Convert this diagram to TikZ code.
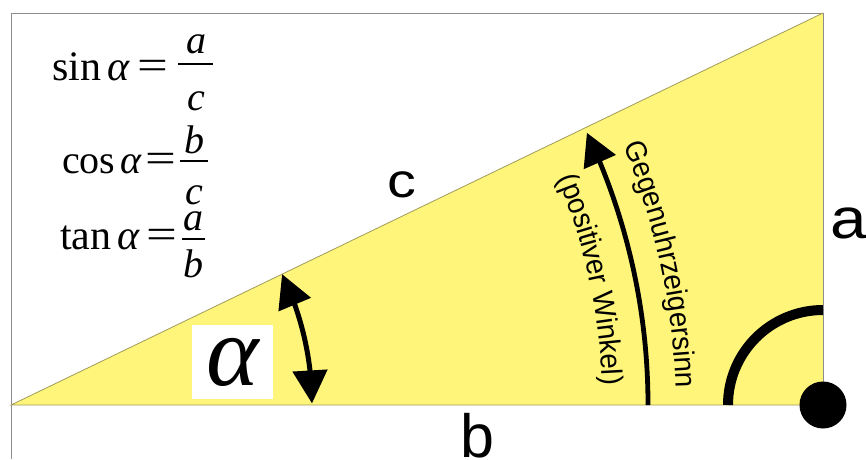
\documentclass[tikz,border=0pt]{standalone}
\usepackage{fontspec}
\setmainfont{Liberation Serif}
\newfontfamily\sansf{Liberation Sans}
\newfontfamily\sansn[FakeStretch=0.94]{Liberation Sans}
\usetikzlibrary{arrows.meta,decorations.text,bending}
\definecolor{triyellow}{RGB}{255,245,122}
\definecolor{edgeol}{RGB}{160,155,90}
\definecolor{framegray}{RGB}{140,140,140}
\begin{document}
\begin{tikzpicture}[x=1pt,y=1pt,
  side/.style={inner sep=0pt, font=\sansf},
  lhs/.style={inner sep=0pt, anchor=base west, font=\fontsize{42}{42}\selectfont},
  eqs/.style={inner sep=0pt, xscale=1.3, font=\fontsize{42}{42}\selectfont},
  frac/.style={inner sep=0pt, anchor=base, font=\fontsize{40}{40}\selectfont\itshape},
  fbar/.style={line width=2.4pt},
  bigarr/.style={line width=4.8pt, -{Triangle[length=32pt,width=34pt]}},
  dblarr/.style={line width=5pt, {Triangle[length=33pt,width=34pt]}-{Triangle[length=33pt,width=34pt]}},
  arctext/.style={decorate, decoration={text along path, text align=center, text={#1}}}
]
\useasboundingbox[fill=white] (0,0) rectangle (866,459);
% corners
\coordinate (A) at (11,54);
\coordinate (B) at (823,54);
\coordinate (C) at (823,446);
\coordinate (F) at (11,0);
\coordinate (G) at (11,446);
% frame
\draw[framegray, line width=0.9pt] (F) -- (G) -- (C);
% triangle
\fill[triyellow] (A) -- (B) -- (C) -- cycle;
\draw[edgeol, line width=0.8pt] (C) -- (A) -- (B);
\draw[framegray, line width=0.9pt] (B) -- (C);
% right angle marker and dot
\draw[line width=10pt] (B) ++(180:95) arc[start angle=180, end angle=90, radius=95];
\fill (B) circle[radius=23.5];
% angle arrows
\draw[dblarr] (A) ++(0.3:301) arc[start angle=0.3, end angle=25.77, radius=301];
\draw[bigarr] (A) ++(0:637) arc[start angle=0, end angle=25.3, radius=637];
% curved texts
\path[arctext={|\sansn\fontsize{29.5}{29.5}\selectfont|Gegenuhrzeigersinn}]
  (A) ++(24.2:665) arc[start angle=24.2, end angle=0.2, radius=665];
\path[arctext={|\sansn\fontsize{29.5}{29.5}\selectfont|(positiver Winkel)}]
  (A) ++(24.2:592) arc[start angle=24.2, end angle=0.2, radius=592];
% side labels
\node[side, font=\sansf\fontsize{48}{48}\selectfont, xscale=1.2] (labc) at (402,274) {c};
\node[side, font=\sansf\fontsize{57}{57}\selectfont, xscale=1.15] (laba) at (849,236) {a};
\node[side, font=\sansf\fontsize{61}{61}\selectfont] (labb) at (477.5,23.5) {b};
% alpha
\node[fill=white, inner sep=0pt, minimum width=81pt, minimum height=74pt,
  font=\fontsize{100}{100}\selectfont\itshape] (alpha) at (232.5,97) {α};
% formulas
\node[lhs] (sinl) at (52,379) {sin\hspace{0.15em}\textit{α}};
\node[eqs] (sineq) at (152.5,389) {=};
\draw[fbar] (178,395) -- (213,395);
\node[frac] (sinn) at (196,406) {a};
\node[frac] (sind) at (196,349) {c};
\node[lhs, font=\fontsize{40}{40}\selectfont] (cosl) at (62,286) {cos\hspace{0.12em}\textit{α}};
\node[eqs] (coseq) at (161,296.5) {=};
\draw[fbar] (180,298) -- (208,298);
\node[frac] (cosn) at (194,306) {b};
\node[frac] (cosd) at (194,255) {c};
\node[lhs] (tanl) at (60,210) {tan\hspace{0.15em}\textit{α}};
\node[eqs] (taneq) at (161.5,220) {=};
\draw[fbar] (182,220) -- (205,220);
\node[frac] (tann) at (193,229) {a};
\node[frac] (tand) at (193,182) {b};
\end{tikzpicture}
\end{document}
